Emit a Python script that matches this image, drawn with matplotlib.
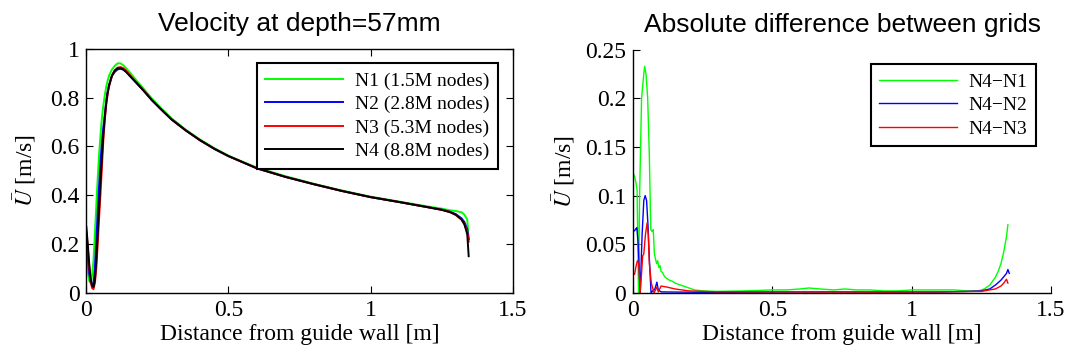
import matplotlib
matplotlib.use("Agg")
import matplotlib.pyplot as plt

plt.rcParams["font.family"] = ["Liberation Serif", "DejaVu Serif"]
plt.rcParams["mathtext.fontset"] = "stix"

# --- left panel: velocity profiles ---
x_vel = [0, 0.005, 0.01, 0.015, 0.02, 0.025, 0.03, 0.035, 0.04, 0.045, 0.05, 0.055,
         0.06, 0.065, 0.07, 0.075, 0.08, 0.09, 0.10, 0.11, 0.12, 0.13, 0.14, 0.16,
         0.18, 0.20, 0.23, 0.26, 0.30, 0.35, 0.40, 0.45, 0.50, 0.55, 0.60, 0.70,
         0.80, 0.90, 1.00, 1.10, 1.20, 1.25, 1.28, 1.30, 1.32, 1.33, 1.34, 1.345]
u_n1 = [0.15, 0.09, 0.05, 0.04, 0.07, 0.13, 0.24, 0.36, 0.47, 0.57, 0.65, 0.72,
        0.77, 0.81, 0.845, 0.87, 0.89, 0.915, 0.93, 0.94, 0.94, 0.932, 0.92, 0.893,
        0.865, 0.838, 0.797, 0.76, 0.715, 0.668, 0.628, 0.593, 0.562, 0.537, 0.513, 0.478,
        0.447, 0.419, 0.394, 0.374, 0.354, 0.345, 0.338, 0.335, 0.330, 0.320, 0.300, 0.220]
u_n2 = [0.21, 0.15, 0.08, 0.045, 0.03, 0.04, 0.10, 0.21, 0.33, 0.44, 0.54, 0.62,
        0.68, 0.73, 0.785, 0.825, 0.852, 0.888, 0.905, 0.915, 0.918, 0.914, 0.905, 0.88,
        0.855, 0.83, 0.79, 0.755, 0.71, 0.665, 0.625, 0.59, 0.56, 0.535, 0.51, 0.475,
        0.445, 0.417, 0.392, 0.372, 0.351, 0.341, 0.332, 0.322, 0.305, 0.290, 0.260, 0.220]
u_n3 = [0.25, 0.185, 0.11, 0.05, 0.02, 0.015, 0.04, 0.10, 0.20, 0.31, 0.41, 0.52,
        0.63, 0.71, 0.77, 0.815, 0.845, 0.89, 0.912, 0.922, 0.925, 0.92, 0.91, 0.883,
        0.857, 0.831, 0.79, 0.755, 0.71, 0.665, 0.625, 0.59, 0.56, 0.535, 0.51, 0.475,
        0.445, 0.417, 0.392, 0.372, 0.351, 0.340, 0.331, 0.318, 0.300, 0.282, 0.250, 0.210]
u_n4 = [0.27, 0.20, 0.12, 0.06, 0.03, 0.024, 0.05, 0.13, 0.24, 0.35, 0.46, 0.56,
        0.65, 0.72, 0.78, 0.82, 0.85, 0.89, 0.91, 0.92, 0.92, 0.915, 0.905, 0.88,
        0.855, 0.83, 0.79, 0.755, 0.71, 0.665, 0.625, 0.59, 0.56, 0.535, 0.51, 0.475,
        0.445, 0.417, 0.392, 0.372, 0.351, 0.340, 0.330, 0.320, 0.300, 0.280, 0.240, 0.150]
vel_labels = ["N1 (1.5M nodes)", "N2 (2.8M nodes)", "N3 (5.3M nodes)", "N4 (8.8M nodes)"]

# --- right panel: absolute differences ---
x_d1 = [0, 0.005, 0.01, 0.014, 0.019, 0.023, 0.03, 0.038, 0.041, 0.046, 0.052, 0.058,
        0.063, 0.068, 0.072, 0.076, 0.08, 0.084, 0.088, 0.092, 0.096, 0.10, 0.105, 0.11,
        0.115, 0.12, 0.13, 0.14, 0.15, 0.16, 0.18, 0.20, 0.22, 0.25, 0.3, 0.4, 0.5,
        0.55, 0.6, 0.63, 0.67, 0.72, 0.76, 0.8, 0.85, 0.9, 0.95, 1.0, 1.05, 1.1, 1.15,
        1.2, 1.24, 1.26, 1.28, 1.3, 1.31, 1.32, 1.33, 1.34, 1.345]
d_n1 = [0.123, 0.12, 0.113, 0.105, 0.0, 0.10, 0.20, 0.225, 0.233, 0.225, 0.20, 0.14,
        0.065, 0.063, 0.065, 0.04, 0.035, 0.03, 0.033, 0.026, 0.028, 0.022, 0.021, 0.018,
        0.016, 0.015, 0.013, 0.012, 0.010, 0.009, 0.007, 0.005, 0.003, 0.002, 0.0015, 0.002, 0.003,
        0.003, 0.004, 0.005, 0.004, 0.003, 0.004, 0.003, 0.003, 0.002, 0.002, 0.003, 0.003, 0.003, 0.003,
        0.002, 0.002, 0.004, 0.008, 0.016, 0.022, 0.03, 0.042, 0.058, 0.07]
x_d2 = [0, 0.005, 0.01, 0.013, 0.018, 0.025, 0.032, 0.038, 0.043, 0.048, 0.053, 0.058,
        0.064, 0.07, 0.078, 0.085, 0.09, 0.1, 0.15, 0.3, 0.5, 0.7, 0.9, 1.1, 1.2,
        1.25, 1.28, 1.3, 1.32, 1.34, 1.345, 1.35]
d_n2 = [0.063, 0.064, 0.066, 0.067, 0.05, 0.0, 0.06, 0.095, 0.10, 0.095, 0.07, 0.035,
        0.0, 0.002, 0.004, 0.011, 0.003, 0.001, 0.0008, 0.0005, 0.0008, 0.001, 0.0008, 0.0008, 0.0015,
        0.002, 0.004, 0.008, 0.013, 0.02, 0.024, 0.02]
x_d3 = [0, 0.005, 0.01, 0.015, 0.02, 0.025, 0.03, 0.034, 0.038, 0.044, 0.05, 0.054,
        0.058, 0.065, 0.075, 0.085, 0.09, 0.1, 0.12, 0.15, 0.2, 0.3, 0.5, 0.7, 0.9,
        1.1, 1.25, 1.3, 1.32, 1.33, 1.34, 1.345]
d_n3 = [0.02, 0.019, 0.027, 0.033, 0.03, 0.0, 0.02, 0.038, 0.04, 0.06, 0.072, 0.06,
        0.03, 0.01, 0.0, 0.006, 0.001, 0.007, 0.006, 0.004, 0.002, 0.001, 0.001, 0.0008, 0.0008,
        0.001, 0.0015, 0.004, 0.007, 0.01, 0.014, 0.01]
diff_labels = ["N4\u2212N1", "N4\u2212N2", "N4\u2212N3"]

colors = ["#00ff00", "#0000ff", "#ff0000", "#000000"]
title_font = {"family": ["Liberation Sans", "DejaVu Sans"], "size": 19}
fs = 17

fig = plt.figure(figsize=(10.66, 3.58), dpi=100)
ax1 = fig.add_axes([0.081, 0.182, 0.400, 0.682])
ax2 = fig.add_axes([0.594, 0.182, 0.392, 0.679])

for u, c, lab in zip([u_n1, u_n2, u_n3, u_n4], colors, vel_labels):
    ax1.plot(x_vel, u, color=c, lw=1.4, label=lab)
ax1.set_xlim(0, 1.5)
ax1.set_ylim(0, 1)
ax1.set_xticks([0, 0.5, 1, 1.5])
ax1.set_xticklabels(["0", "0.5", "1", "1.5"])
ax1.set_yticks([0, 0.2, 0.4, 0.6, 0.8, 1])
ax1.set_yticklabels(["0", "0.2", "0.4", "0.6", "0.8", "1"])
ax1.tick_params(direction="in", length=5, width=0.8, labelsize=fs,
                top=True, right=True, pad=5)
ax1.set_title("Velocity at depth=57mm", fontdict=title_font, pad=13)
ax1.set_xlabel("Distance from guide wall [m]", fontsize=fs, labelpad=2)
ax1.set_ylabel(r"$\bar{U}$ [m/s]", fontsize=fs, labelpad=9)
leg1 = ax1.legend(loc="upper right", fontsize=14, handlelength=4.0,
                  borderaxespad=0.75, fancybox=False, edgecolor="black",
                  framealpha=1, labelspacing=0.3, handletextpad=0.6,
                  borderpad=0.45)
leg1.get_frame().set_linewidth(1.5)

for xd, d, c, lab in zip([x_d1, x_d2, x_d3], [d_n1, d_n2, d_n3], colors, diff_labels):
    ax2.plot(xd, d, color=c, lw=1.0, label=lab)
ax2.set_xlim(0, 1.5)
ax2.set_ylim(0, 0.25)
ax2.set_xticks([0, 0.5, 1, 1.5])
ax2.set_xticklabels(["0", "0.5", "1", "1.5"])
ax2.set_yticks([0, 0.05, 0.1, 0.15, 0.2, 0.25])
ax2.set_yticklabels(["0", "0.05", "0.1", "0.15", "0.2", "0.25"])
ax2.spines["top"].set_visible(False)
ax2.spines["right"].set_visible(False)
ax2.tick_params(direction="in", length=5, width=0.8, labelsize=fs, pad=5)
ax2.set_title("Absolute difference between grids", fontdict=title_font, pad=13)
ax2.set_xlabel("Distance from guide wall [m]", fontsize=fs, labelpad=2)
ax2.set_ylabel(r"$\bar{U}$ [m/s]", fontsize=fs, labelpad=6)
leg2 = ax2.legend(loc="upper right", fontsize=14, handlelength=4.0,
                  borderaxespad=0.75, fancybox=False, edgecolor="black",
                  framealpha=1, labelspacing=0.3, handletextpad=0.6,
                  borderpad=0.45)
leg2.get_frame().set_linewidth(1.5)

for ax in (ax1, ax2):
    for s in ax.spines.values():
        s.set_linewidth(1.0)

fig.savefig("out.png", dpi=100)
